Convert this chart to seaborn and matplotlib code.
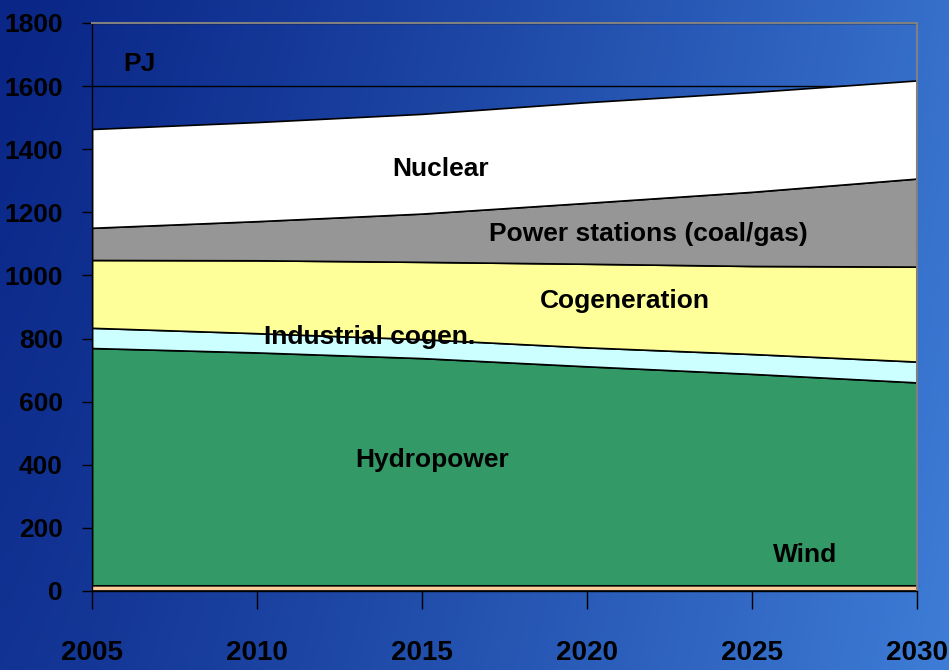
import numpy as np
import pandas as pd
import matplotlib
matplotlib.use("Agg")
import matplotlib.pyplot as plt
import seaborn as sns

# Data (PJ)
years = [2005, 2010, 2015, 2020, 2025, 2030]
wind = [18, 18, 18, 18, 18, 18]
hydropower = [752, 738, 720, 694, 670, 643]
industrial_cogen = [64, 61, 60, 60, 63, 66]
cogeneration = [215, 231, 245, 265, 279, 301]
power_stations = [102, 124, 153, 193, 235, 279]
nuclear = [313, 314, 316, 319, 316, 311]

series_names = ["Wind", "Hydropower", "Industrial cogen.", "Cogeneration",
                "Power stations (coal/gas)", "Nuclear"]
colors = ["#FFCC99", "#339966", "#CCFFFF", "#FFFF99", "#969696", "#FFFFFF"]
y_ticks = [0, 200, 400, 600, 800, 1000, 1200, 1400, 1600, 1800]

df = pd.DataFrame({
    "Wind": wind,
    "Hydropower": hydropower,
    "Industrial cogen.": industrial_cogen,
    "Cogeneration": cogeneration,
    "Power stations (coal/gas)": power_stations,
    "Nuclear": nuclear,
}, index=years)

sns.set_theme(style="white")
plt.rcParams["font.family"] = ["Liberation Sans", "DejaVu Sans"]
plt.rcParams["font.weight"] = "bold"

fig = plt.figure(figsize=(9.49, 6.7), dpi=100)

# blue gradient background
bg = fig.add_axes([0, 0, 1, 1], zorder=-10)
h, w = 200, 300
xx = np.linspace(0, 1, w)[None, :]
yy = np.linspace(0, 1, h)[:, None]
left = np.array([10, 38, 135]) / 255
right = np.array([62, 125, 215]) / 255
t = np.clip(xx ** 1.2 * 0.85 + yy * 0.15, 0, 1)
img = left[None, None, :] * (1 - t[..., None]) + right[None, None, :] * t[..., None]
bg.imshow(img, aspect="auto", extent=[0, 1, 0, 1], origin="upper")
bg.axis("off")

ax = fig.add_axes([92 / 949, 1 - 591 / 670, 825 / 949, 568 / 670])
ax.patch.set_alpha(0)

ax.stackplot(df.index, [df[c] for c in series_names], colors=colors,
             edgecolor="black", linewidth=1.2, zorder=2)

ax.set_xlim(2005, 2030)
ax.set_ylim(0, 1800)
ax.set_xticks(years)
ax.set_yticks(y_ticks)
ax.grid(axis="y", color="black", linewidth=1.0, zorder=0)
ax.set_axisbelow(True)

for side in ["top", "right"]:
    ax.spines[side].set_color("#808080")
    ax.spines[side].set_linewidth(1.5)
for side in ["left", "bottom"]:
    ax.spines[side].set_color("black")
    ax.spines[side].set_linewidth(1.0)

ax.tick_params(axis="y", length=7, width=1, color="black", pad=14,
               labelsize=19, labelcolor="black", left=True, direction="out")
ax.tick_params(axis="x", length=13, width=1, color="black", pad=22,
               labelsize=20, labelcolor="black", bottom=True, direction="out")
for lab in ax.get_xticklabels() + ax.get_yticklabels():
    lab.set_fontweight("bold")

txt = dict(fontsize=19, fontweight="bold", color="black", ha="center", va="center", zorder=5)
ax.text(2006.45, 1671, "PJ", **txt)
ax.text(2015.55, 1336, "Nuclear", **txt)
ax.text(2021.85, 1131, "Power stations (coal/gas)", **txt)
ax.text(2021.15, 919, "Cogeneration", **txt)
ax.text(2013.4, 806, "Industrial cogen.", **txt)
ax.text(2015.3, 414, "Hydropower", **txt)
ax.text(2026.6, 114, "Wind", **txt)

fig.savefig("out.png", dpi=100)
